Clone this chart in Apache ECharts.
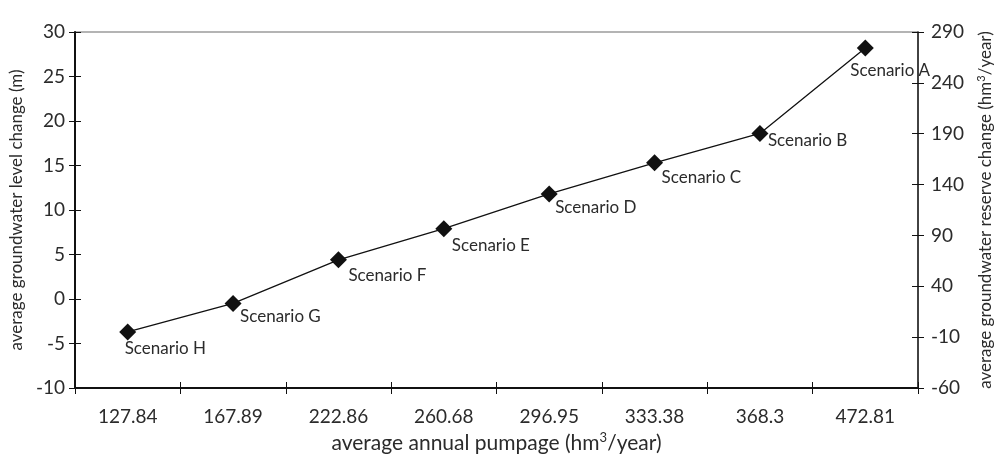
<!DOCTYPE html>
<html>
<head>
<meta charset="utf-8">
<script src="https://cdn.jsdelivr.net/npm/echarts@6/dist/echarts.min.js"></script>
<style>
  html, body { margin: 0; padding: 0; background: #fff; }
  #chart { width: 995px; height: 454px; }
</style>
</head>
<body>
<div id="chart"></div>
<script>
// Pumpage scenarios (x categories), groundwater level change per scenario
const pumpage = ['127.84', '167.89', '222.86', '260.68', '296.95', '333.38', '368.3', '472.81'];
const scenarioNames = ['Scenario H', 'Scenario G', 'Scenario F', 'Scenario E', 'Scenario D', 'Scenario C', 'Scenario B', 'Scenario A'];
const levelChange = [-3.7, -0.5, 4.4, 7.9, 11.8, 15.3, 18.6, 28.2];

// Reserve-change axis runs from -60 to 290 in steps of 50
const reserveMin = -60;
const reserveMax = 290;
const reserveStep = 50;

// Label placement relative to each marker [dx, dy]
const labelOffsets = [[-3, 17], [7, 13], [10, 16], [8, 17], [6, 14], [7, 15], [8, 7], [-15, 22]];

const FONT = 'Lato';
const TXT = '#2b2b2b';

const chart = echarts.init(document.getElementById('chart'), null, { renderer: 'canvas' });

const seriesData = levelChange.map((v, i) => ({
  value: v,
  name: scenarioNames[i],
  label: { offset: labelOffsets[i] }
}));

const supSmall = { fontFamily: FONT, fontSize: 11, color: TXT, verticalAlign: 'top', padding: [0, 0, 9, 0] };
const supLarge = { fontFamily: FONT, fontSize: 13, color: TXT, verticalAlign: 'top', padding: [0, 0, 11, 0] };

const option = {
  backgroundColor: '#fff',
  animation: false,
  grid: {
    left: 75, right: 77, top: 32, bottom: 66,
    containLabel: false,
    outerBoundsMode: 'none',
    show: true, borderColor: '#6a6a6a', borderWidth: 1.2, backgroundColor: 'transparent'
  },
  xAxis: [
    {
      type: 'category',
      data: pumpage,
      boundaryGap: true,
      position: 'bottom',
      name: 'average annual pumpage (hm{sup|3}/year)',
      nameLocation: 'middle',
      nameGap: 42,
      nameTextStyle: { fontFamily: FONT, fontSize: 21, color: TXT, rich: { sup: supLarge } },
      axisLine: { onZero: false, lineStyle: { color: '#111', width: 2 } },
      axisTick: { show: true, inside: false, length: 6, lineStyle: { color: '#111', width: 1 } },
      axisLabel: { margin: 19, fontFamily: FONT, fontSize: 19, color: TXT },
      splitLine: { show: false }
    },
    {
      // inner half of the crossing tick marks
      type: 'category',
      data: pumpage,
      boundaryGap: true,
      position: 'bottom',
      axisLine: { show: false, onZero: false },
      axisTick: { show: true, inside: true, length: 6, lineStyle: { color: '#111', width: 1 } },
      axisLabel: { show: false },
      splitLine: { show: false }
    }
  ],
  yAxis: [
    {
      type: 'value',
      min: -10, max: 30, interval: 5,
      position: 'left',
      name: 'average groundwater level change (m)',
      nameLocation: 'middle',
      nameGap: 39,
      nameTextStyle: { fontFamily: FONT, fontSize: 17, color: TXT },
      axisLine: { show: true, onZero: false, lineStyle: { color: '#111', width: 2 } },
      axisTick: { show: true, inside: false, length: 6, lineStyle: { color: '#111', width: 1 } },
      axisLabel: { margin: 10, fontFamily: FONT, fontSize: 19, color: TXT },
      splitLine: { show: false }
    },
    {
      // reserve change axis, offset so ticks start on a multiple of the step
      type: 'value',
      min: 0, max: reserveMax - reserveMin, interval: reserveStep,
      position: 'right',
      name: 'average groundwater reserve change (hm{sup|3}/year)',
      nameLocation: 'middle',
      nameGap: 58,
      nameRotate: 90,
      nameTextStyle: { fontFamily: FONT, fontSize: 17, color: TXT, rich: { sup: supSmall } },
      axisLine: { show: true, onZero: false, lineStyle: { color: '#222', width: 1.5 } },
      axisTick: { show: true, inside: false, length: 6, lineStyle: { color: '#111', width: 1 } },
      axisLabel: { margin: 13, fontFamily: FONT, fontSize: 19, color: TXT, formatter: v => String(v + reserveMin) },
      splitLine: { show: false }
    },
    {
      // inner half of the left crossing ticks
      type: 'value',
      min: -10, max: 30, interval: 5,
      position: 'left',
      axisLine: { show: false, onZero: false },
      axisTick: { show: true, inside: true, length: 6, lineStyle: { color: '#111', width: 1 } },
      axisLabel: { show: false },
      splitLine: { show: false }
    },
    {
      // inner half of the right crossing ticks
      type: 'value',
      min: 0, max: reserveMax - reserveMin, interval: reserveStep,
      position: 'right',
      axisLine: { show: false, onZero: false },
      axisTick: { show: true, inside: true, length: 6, lineStyle: { color: '#111', width: 1 } },
      axisLabel: { show: false },
      splitLine: { show: false }
    }
  ],
  series: [
    {
      type: 'line',
      xAxisIndex: 0,
      yAxisIndex: 0,
      data: seriesData,
      symbol: 'diamond',
      symbolSize: 17,
      itemStyle: { color: '#111' },
      lineStyle: { color: '#111', width: 1.3 },
      label: {
        show: true,
        position: 'inside',
        align: 'left',
        verticalAlign: 'middle',
        fontFamily: FONT,
        fontSize: 17,
        color: TXT,
        formatter: p => p.name
      },
      z: 5
    }
  ]
};

chart.setOption(option);
</script>
</body>
</html>
